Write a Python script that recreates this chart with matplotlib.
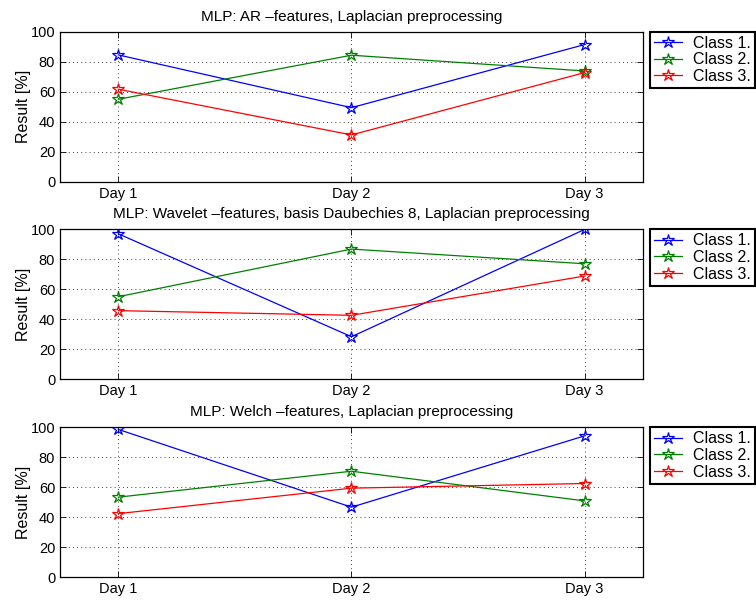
import numpy as np
import matplotlib
matplotlib.use('Agg')
import matplotlib.pyplot as plt

plt.rcParams['font.family'] = ['Liberation Sans', 'DejaVu Sans']
plt.rcParams['font.size'] = 10

days = ['Day 1', 'Day 2', 'Day 3']
classes = ['Class 1.', 'Class 2.', 'Class 3.']
titles = [
    'MLP: AR \u2013features, Laplacian preprocessing',
    'MLP: Wavelet \u2013features, basis Daubechies 8, Laplacian preprocessing',
    'MLP: Welch \u2013features, Laplacian preprocessing',
]

# resultat per klass, dag 1..3
ar_c1 = [84.6, 49.4, 91.5]
ar_c2 = [55.0, 84.4, 73.9]
ar_c3 = [61.7, 31.2, 72.8]

wav_c1 = [97.1, 28.4, 100.0]
wav_c2 = [55.1, 86.9, 77.1]
wav_c3 = [45.8, 42.7, 68.9]

welch_c1 = [98.7, 46.8, 94.4]
welch_c2 = [53.5, 70.8, 51.0]
welch_c3 = [42.5, 59.5, 62.6]

results = [
    [ar_c1, ar_c2, ar_c3],
    [wav_c1, wav_c2, wav_c3],
    [welch_c1, welch_c2, welch_c3],
]
colors = ['#0000ff', '#008000', '#ff0000']

fig = plt.figure(figsize=(7.56, 6.03), dpi=100)
bottoms = [0.6987, 0.371, 0.0426]
x = np.arange(1, len(days) + 1)

for k in range(3):
    ax = fig.add_axes([0.0794, bottoms[k], 0.771, 0.2485])
    for c in range(3):
        ax.plot(x, results[k][c], color=colors[c], marker='*', markersize=9,
                markerfacecolor='none', markeredgewidth=0.9, linewidth=0.9,
                label=classes[c])
    ax.set_xlim(0.75, 3.25)
    ax.set_ylim(0, 100)
    ax.set_xticks(x)
    ax.set_xticklabels(days, fontsize=10.5)
    ax.set_yticks(np.arange(0, 101, 20))
    ax.tick_params(axis='y', labelsize=10.5)
    ax.set_ylabel('Result [%]', fontsize=11.5, labelpad=0)
    ax.set_title(titles[k], fontsize=11, pad=8)
    ax.grid(True, color='black', linestyle=(0, (1, 4)), linewidth=0.6)
    ax.tick_params(direction='in', top=True, right=True, length=4, width=0.6)
    for s in ax.spines.values():
        s.set_linewidth(0.9)
    leg = ax.legend(loc='upper left', bbox_to_anchor=(1.013, 1.0),
                    borderaxespad=0, fancybox=False, framealpha=1,
                    edgecolor='black', handlelength=1.7, labelspacing=0.1,
                    borderpad=0.25, handletextpad=0.7, fontsize=11.5)
    leg.get_frame().set_linewidth(1.5)

fig.savefig('out.png', dpi=100)
